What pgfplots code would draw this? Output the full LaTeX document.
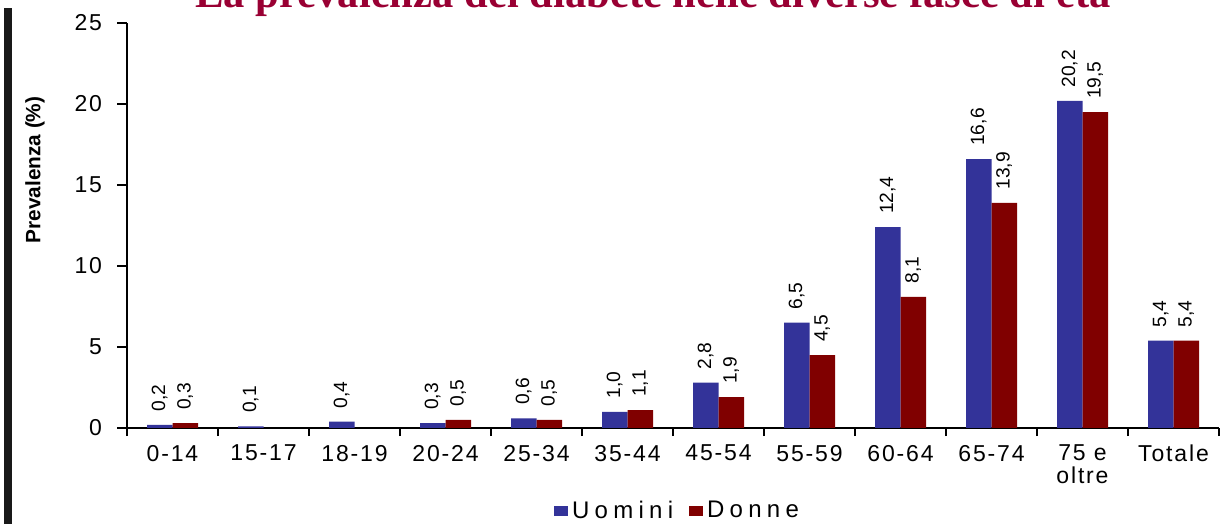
\documentclass[border=0pt]{standalone}
\usepackage{pgfplots}
\pgfplotsset{compat=1.18}
\usepackage{fontspec}
\setmainfont{Liberation Sans}
\newfontfamily\titlefont{Liberation Serif}
\newfontfamily\spacedfont[LetterSpace=8]{Liberation Sans}
\newfontfamily\legfont[LetterSpace=22]{Liberation Sans}
\definecolor{uomini}{RGB}{51,51,153}
\definecolor{donne}{RGB}{128,0,0}
\definecolor{titlered}{RGB}{153,0,51}
\begin{document}
\begin{tikzpicture}
\begin{axis}[
  at={(0,0)}, anchor=south west,
  scale only axis, width=546bp, height=202.5bp,
  xmin=-0.5, xmax=11.5, ymin=0, ymax=25,
  ybar=0pt, bar width=12.75bp,
  axis x line*=bottom, axis y line*=left,
  axis line style={-, black, line width=0.7bp},
  xtick={0,...,11},
  xticklabels={0-14,15-17,18-19,20-24,25-34,35-44,45-54,55-59,60-64,65-74,{75 e\\oltre},Totale},
  xticklabel style={align=center, font=\spacedfont\fontsize{11.5bp}{11.5bp}\selectfont},
  major x tick style={draw=none},
  minor xtick={-0.5,0.5,...,11.5},
  ytick={0,5,...,25},
  yticklabel style={font=\spacedfont\fontsize{11.5bp}{12bp}\selectfont, xshift=-4bp},
  /pgf/number format/assume math mode=true,
  tick align=outside,
  major tick length=5bp, minor tick length=4bp,
  tick style={black, line width=0.7bp},
  ylabel={Prevalenza (\%)},
  ylabel style={at={(axis description cs:-0.0842,0.637)}, anchor=center, font=\bfseries\fontsize{10.4bp}{12bp}\selectfont},
  nodes near coords={\pgfmathprintnumber[fixed,fixed zerofill,precision=1,use comma]{\pgfplotspointmeta}},
  nodes near coords style={rotate=90, anchor=west, inner xsep=6.5bp, font=\fontsize{9.6bp}{10bp}\selectfont, text=black},
  legend columns=2,
  legend style={at={(axis description cs:0.505,-0.205)}, anchor=center, draw=none, fill=none,
    font=\legfont\fontsize{12bp}{12bp}\selectfont,
    /tikz/every even column/.append style={column sep=6bp}},
  legend image code/.code={\fill[#1,draw=none] (0bp,-2.5bp) rectangle (7bp,2.5bp);},
]
\addplot[fill=uomini, draw=none] coordinates {
 (0,0.2) (1,0.1) (2,0.4) (3,0.3) (4,0.6) (5,1.0) (6,2.8) (7,6.5) (8,12.4) (9,16.6) (10,20.2) (11,5.4)};
\addplot[fill=donne, draw=none] coordinates {
 (0,0.3) (3,0.5) (4,0.5) (5,1.1) (6,1.9) (7,4.5) (8,8.1) (9,13.9) (10,19.5) (11,5.4)};
\legend{Uomini, Donne}
\end{axis}
\fill[black!90] (-61.5bp,-48bp) rectangle (-57.5bp,210bp);
\node[anchor=base, font=\titlefont\bfseries\fontsize{21.3bp}{24bp}\selectfont, text=titlered, inner sep=0pt] at (263bp,210bp) {La prevalenza del diabete nelle diverse fasce di età};
\pgfresetboundingbox
\path[use as bounding box] (-63.5bp,-48bp) rectangle (547.5bp,214bp);
\end{tikzpicture}
\end{document}
